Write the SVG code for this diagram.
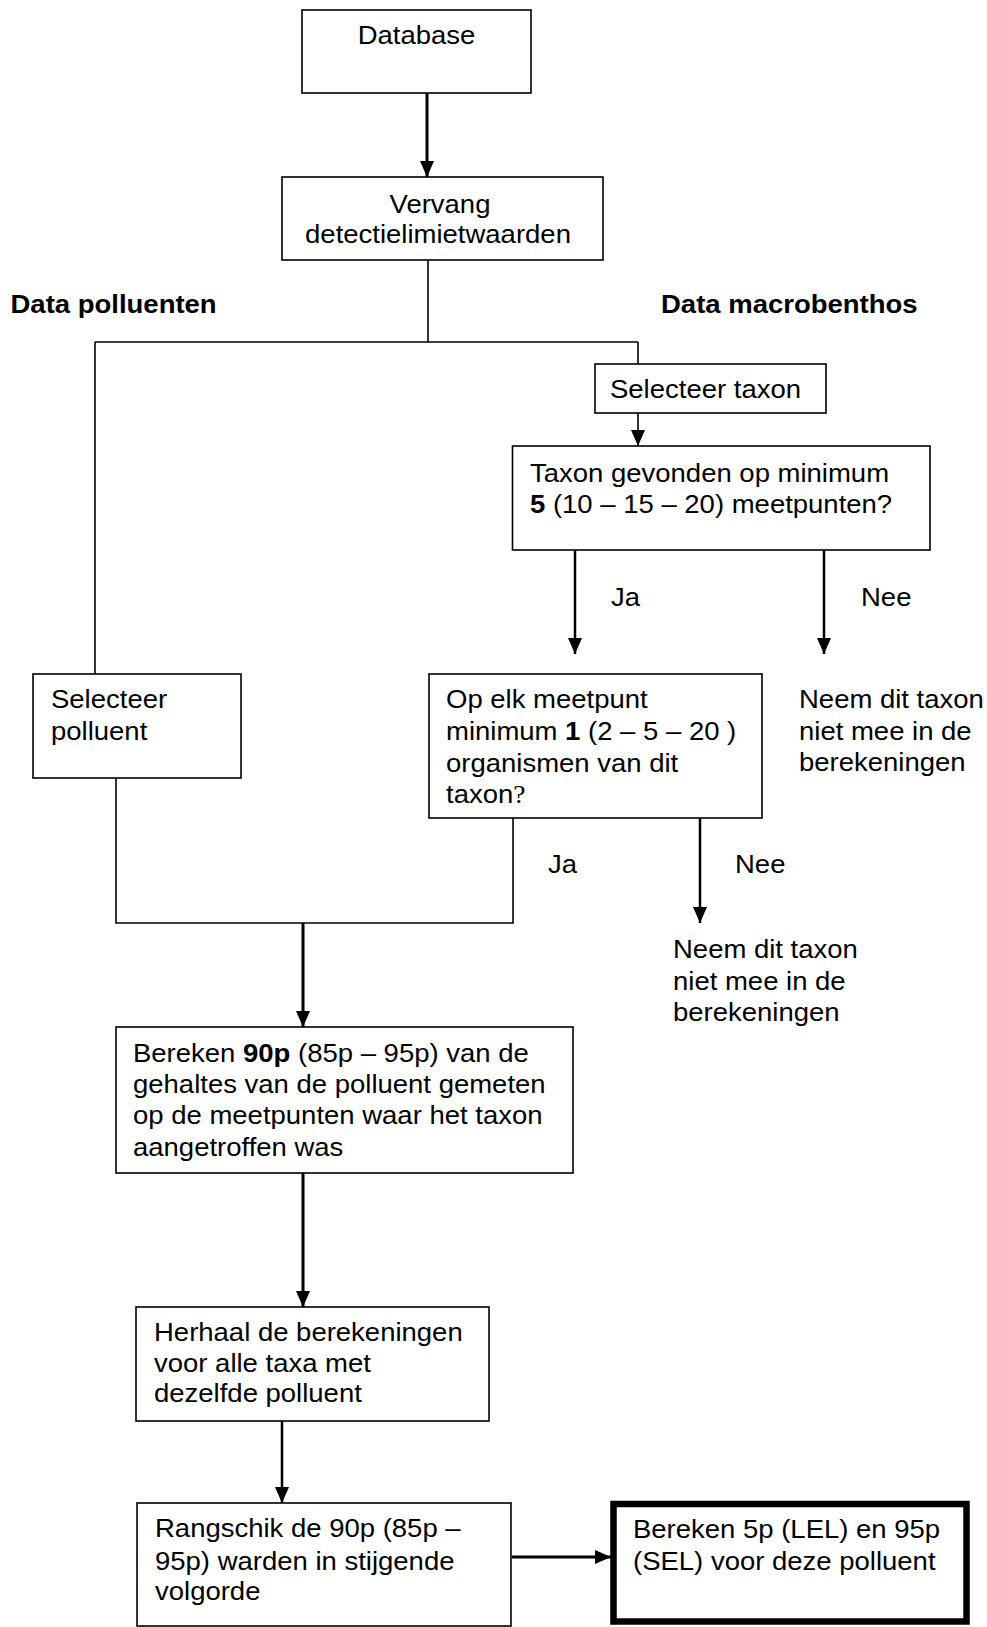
<svg xmlns="http://www.w3.org/2000/svg" width="987" height="1627" viewBox="0 0 987 1627">
<defs>
<style>
.box{fill:#fff;stroke:#000;stroke-width:1.6}
.thick{fill:#fff;stroke:#000;stroke-width:6.5}
.t{font-family:"Liberation Sans",Arial,sans-serif;font-size:25px;fill:#000}
.b{font-weight:bold}
.c{fill:none;stroke:#000;stroke-width:1.6}
.c2{fill:none;stroke:#000;stroke-width:2.5}
.c3{fill:none;stroke:#000;stroke-width:3}
</style>
<marker id="ah" markerUnits="userSpaceOnUse" markerWidth="16" markerHeight="14" refX="16" refY="7" orient="auto">
<path d="M0,0 L16,7 L0,14 Z" fill="#000"/>
</marker>
</defs>
<rect width="987" height="1627" fill="#fff"/>

<g id="connectors">
<path class="c3" d="M427,93 V177" marker-end="url(#ah)"/>
<path class="c" d="M428,260 V342"/>
<path class="c" d="M95,342 H638"/>
<path class="c" d="M95,342 V674"/>
<path class="c" d="M638,342 V364"/>
<path class="c" d="M638,413 V446" marker-end="url(#ah)"/>
<path class="c2" d="M575,550 V654" marker-end="url(#ah)"/>
<path class="c2" d="M824,550 V654" marker-end="url(#ah)"/>
<path class="c" d="M116,778 V923 H513 V818"/>
<path class="c2" d="M700,818 V923" marker-end="url(#ah)"/>
<path class="c3" d="M303,923 V1027" marker-end="url(#ah)"/>
<path class="c3" d="M303,1173 V1307" marker-end="url(#ah)"/>
<path class="c2" d="M282,1421 V1503" marker-end="url(#ah)"/>
<path class="c3" d="M512,1557 H611" marker-end="url(#ah)"/>
</g>

<g id="database">
<rect class="box" x="302" y="10" width="229" height="83"/>
<text class="t" text-anchor="middle" transform="translate(416.5,44) scale(1.1,1)">Database</text>
</g>

<g id="vervang">
<rect class="box" x="282" y="177" width="321" height="83"/>
<text class="t" text-anchor="middle" transform="translate(440,213) scale(1.1,1)">Vervang</text>
<text class="t" text-anchor="middle" transform="translate(438,243) scale(1.1,1)">detectielimietwaarden</text>
</g>

<g id="label-polluenten">
<text class="t b" transform="translate(10.5,313) scale(1.1,1)">Data polluenten</text>
</g>

<g id="label-macrobenthos">
<text class="t b" transform="translate(661,313) scale(1.1,1)">Data macrobenthos</text>
</g>

<g id="selecteer-taxon">
<rect class="box" x="595" y="364" width="231" height="49"/>
<text class="t" transform="translate(610,398) scale(1.1,1)">Selecteer taxon</text>
</g>

<g id="taxon-gevonden">
<rect class="box" x="512.5" y="446" width="417.5" height="104"/>
<text class="t" transform="translate(530,482) scale(1.1,1)">Taxon gevonden op minimum</text>
<text class="t" transform="translate(530,513) scale(1.1,1)"><tspan class="b">5</tspan> (10 – 15 – 20) meetpunten?</text>
</g>

<g id="ja1"><text class="t" transform="translate(611,606) scale(1.1,1)">Ja</text></g>
<g id="nee1"><text class="t" transform="translate(861,606) scale(1.1,1)">Nee</text></g>

<g id="selecteer-polluent">
<rect class="box" x="33" y="674" width="208" height="104"/>
<text class="t" transform="translate(51,708) scale(1.1,1)">Selecteer</text>
<text class="t" transform="translate(51,740) scale(1.1,1)">polluent</text>
</g>

<g id="op-elk">
<rect class="box" x="429" y="674" width="333" height="144"/>
<text class="t" transform="translate(446,708) scale(1.1,1)">Op elk meetpunt</text>
<text class="t" transform="translate(446,740) scale(1.1,1)">minimum <tspan class="b">1</tspan> (2 – 5 – 20 )</text>
<text class="t" transform="translate(446,772) scale(1.1,1)">organismen van dit</text>
<text class="t" transform="translate(446,803) scale(1.1,1)">taxon<tspan font-family="Liberation Serif, serif">?</tspan></text>
</g>

<g id="neem1">
<text class="t" transform="translate(799,708) scale(1.1,1)">Neem dit taxon</text>
<text class="t" transform="translate(799,740) scale(1.1,1)">niet mee in de</text>
<text class="t" transform="translate(799,771) scale(1.1,1)">berekeningen</text>
</g>

<g id="ja2"><text class="t" transform="translate(548,873) scale(1.1,1)">Ja</text></g>
<g id="nee2"><text class="t" transform="translate(735,873) scale(1.1,1)">Nee</text></g>

<g id="neem2">
<text class="t" transform="translate(673,958) scale(1.1,1)">Neem dit taxon</text>
<text class="t" transform="translate(673,990) scale(1.1,1)">niet mee in de</text>
<text class="t" transform="translate(673,1021) scale(1.1,1)">berekeningen</text>
</g>

<g id="bereken-90p">
<rect class="box" x="116" y="1027" width="457" height="146"/>
<text class="t" transform="translate(133,1062) scale(1.1,1)">Bereken <tspan class="b">90p</tspan> (85p – 95p) van de</text>
<text class="t" transform="translate(133,1093) scale(1.1,1)">gehaltes van de polluent gemeten</text>
<text class="t" transform="translate(133,1124) scale(1.1,1)">op de meetpunten waar het taxon</text>
<text class="t" transform="translate(133,1156) scale(1.1,1)">aangetroffen was</text>
</g>

<g id="herhaal">
<rect class="box" x="136" y="1307" width="353" height="114"/>
<text class="t" transform="translate(154,1341) scale(1.1,1)">Herhaal de berekeningen</text>
<text class="t" transform="translate(154,1372) scale(1.1,1)">voor alle taxa met</text>
<text class="t" transform="translate(154,1402) scale(1.1,1)">dezelfde polluent</text>
</g>

<g id="rangschik">
<rect class="box" x="137" y="1503" width="374" height="123"/>
<text class="t" transform="translate(155,1537) scale(1.1,1)">Rangschik de 90p (85p –</text>
<text class="t" transform="translate(155,1570) scale(1.1,1)">95p) warden in stijgende</text>
<text class="t" transform="translate(155,1600) scale(1.1,1)">volgorde</text>
</g>

<g id="bereken-5p">
<rect class="thick" x="613.5" y="1504" width="353" height="117.5"/>
<text class="t" transform="translate(633,1538) scale(1.1,1)">Bereken 5p (LEL) en 95p</text>
<text class="t" transform="translate(633,1570) scale(1.1,1)">(SEL) voor deze polluent</text>
</g>
</svg>
